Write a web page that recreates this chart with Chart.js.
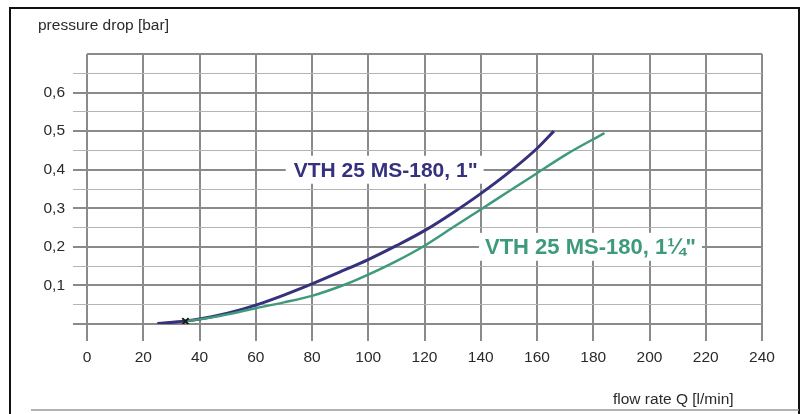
<!DOCTYPE html>
<html>
<head>
<meta charset="utf-8">
<script src="https://cdn.jsdelivr.net/npm/chart.js@4"></script>
<style>
  body { margin: 0; background: #fff; }
  canvas { display: block; }
</style>
</head>
<body>
<canvas id="dropChart" width="804" height="414"></canvas>
<script>
// values
const flow1 = [25, 35, 40, 50, 60, 70, 80, 90, 100, 110, 120, 130, 140, 150, 160, 166];
const drop1 = [0.001, 0.008, 0.013, 0.028, 0.049, 0.075, 0.104, 0.135, 0.167, 0.203, 0.242, 0.288, 0.338, 0.393, 0.455, 0.5];
const flow114 = [35, 40, 50, 60, 70, 80, 92, 100, 110, 120, 130, 140, 150, 160, 170, 184];
const drop114 = [0.008, 0.012, 0.025, 0.041, 0.056, 0.073, 0.103, 0.128, 0.163, 0.203, 0.25, 0.297, 0.344, 0.391, 0.438, 0.495];
const markFlow = [35];
const markDrop = [0.007];

const label1 = 'VTH 25 MS-180, 1"';
const label114 = 'VTH 25 MS-180, 1¼"';
const yTitle = 'pressure drop [bar]';
const xTitle = 'flow rate Q [l/min]';

const blue = '#35317c';
const green = '#3f9a7c';
const font = "'Liberation Sans', Arial, sans-serif";

const toPoints = (xs, ys) => xs.map((x, i) => ({ x: x, y: ys[i] }));
const isMajor = v => Math.round(v * 100) % 10 === 0;

const decor = {
    id: 'decor',
    beforeDatasetsDraw(chart) {
        const ctx = chart.ctx;
        const xs = chart.scales.x;
        const ys = chart.scales.y;
        ctx.save();
        ctx.font = 'bold 21px ' + font;
        ctx.textBaseline = 'middle';

        // curve labels sit on white patches over the grid
        let w = ctx.measureText(label1).width;
        let lx = xs.getPixelForValue(73.5);
        let ly = ys.getPixelForValue(0.4);
        ctx.fillStyle = '#fff';
        ctx.fillRect(lx - 8, ly - 14, w + 14, 28);
        ctx.fillStyle = blue;
        ctx.fillText(label1, lx, ly + 1);

        ctx.font = 'bold 22px ' + font;
        w = ctx.measureText(label114).width;
        lx = xs.getPixelForValue(141.5);
        ly = ys.getPixelForValue(0.2);
        ctx.fillStyle = '#fff';
        ctx.fillRect(lx - 6, ly - 14, w + 12, 28);
        ctx.fillStyle = green;
        ctx.fillText(label114, lx, ly + 1);
        ctx.restore();
    },
    afterDraw(chart) {
        const ctx = chart.ctx;
        ctx.save();
        ctx.fillStyle = '#2a2a2a';
        ctx.font = '15.5px ' + font;
        ctx.textBaseline = 'alphabetic';
        ctx.fillText(yTitle, 38, 30);
        ctx.fillText(xTitle, 613, 404);

        // page frame
        ctx.strokeStyle = '#111';
        ctx.lineWidth = 2;
        ctx.beginPath();
        ctx.moveTo(10, 414);
        ctx.lineTo(10, 8);
        ctx.lineTo(799, 8);
        ctx.lineTo(799, 414);
        ctx.stroke();
        ctx.strokeStyle = '#999';
        ctx.lineWidth = 1.5;
        ctx.beginPath();
        ctx.moveTo(31, 410);
        ctx.lineTo(799, 410);
        ctx.stroke();
        ctx.restore();
    }
};

new Chart(document.getElementById('dropChart'), {
    type: 'scatter',
    data: {
        datasets: [
            {
                data: toPoints(flow1, drop1),
                showLine: true,
                borderColor: blue,
                borderWidth: 3,
                pointRadius: 0,
                cubicInterpolationMode: 'monotone',
                order: 2
            },
            {
                data: toPoints(flow114, drop114),
                showLine: true,
                borderColor: green,
                borderWidth: 2.5,
                pointRadius: 0,
                cubicInterpolationMode: 'monotone',
                order: 1
            },
            {
                data: toPoints(markFlow, markDrop),
                pointStyle: 'crossRot',
                pointRadius: 4.5,
                borderColor: '#1a1a1a',
                borderWidth: 2,
                order: 0
            }
        ]
    },
    options: {
        responsive: false,
        animation: false,
        layout: { padding: { left: 0, right: 42, top: 54, bottom: 0 } },
        plugins: { legend: { display: false }, tooltip: { enabled: false } },
        scales: {
            x: {
                type: 'linear',
                min: 0,
                max: 240,
                ticks: {
                    stepSize: 20,
                    maxTicksLimit: 20,
                    padding: 7,
                    color: '#2a2a2a',
                    font: { family: font, size: 15.5 }
                },
                grid: {
                    color: '#8a8a8a',
                    lineWidth: 2,
                    tickLength: 17,
                    tickColor: '#8a8a8a'
                },
                border: { display: false },
                afterFit: s => { s.height = 90; }
            },
            y: {
                type: 'linear',
                min: 0,
                max: 0.7,
                ticks: {
                    stepSize: 0.05,
                    maxTicksLimit: 20,
                    autoSkip: false,
                    padding: 8,
                    color: '#2a2a2a',
                    font: { family: font, size: 15.5 },
                    callback: v => {
                        if (!isMajor(v) || v < 0.05 || v > 0.65) return '';
                        return v.toFixed(1).replace('.', ',');
                    }
                },
                grid: {
                    color: c => isMajor(c.tick.value) ? '#8a8a8a' : '#b4b4b4',
                    lineWidth: c => isMajor(c.tick.value) ? 2 : 1,
                    tickLength: 14,
                    tickColor: c => c.tick.value > 0.68 ? 'rgba(0,0,0,0)' : (isMajor(c.tick.value) ? '#8a8a8a' : '#b4b4b4')
                },
                border: { display: false },
                afterFit: s => { s.width = 87; }
            }
        }
    },
    plugins: [decor]
});
</script>
</body>
</html>
